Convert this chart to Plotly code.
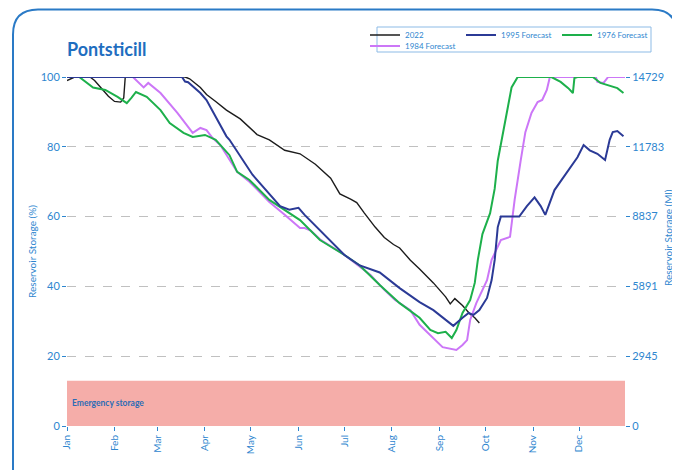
import pandas as pd
import plotly.graph_objects as go

BASE = pd.Timestamp("2022-01-01")

# ---- data (day of year offset from 1 Jan, storage %) ----
days_2022 = [0, 5, 15, 18, 22, 27, 31, 35, 37, 38, 77, 80, 87, 91, 97, 104, 113, 124, 132, 142,
             152, 162, 172, 178, 185, 189, 194, 201, 207, 213, 217, 224, 230, 239, 247, 250, 253,
             258, 263, 266, 269]
vals_2022 = [99, 100, 100, 99, 97, 94.5, 93, 92.8, 94, 100, 100, 99.5, 97, 95, 93, 90.5, 88, 83.5, 82, 79,
             78, 75, 71, 66.5, 65, 64, 61, 57, 54, 52, 51, 47.5, 45, 41, 37, 35, 36.5,
             34.5, 32, 31, 29.5]

days_1995 = [0, 75, 77, 79, 87, 91, 104, 106, 121, 139, 145, 151, 155, 165, 181, 191, 204, 217, 230,
             239, 247, 252, 258, 262, 265, 269, 274, 277, 279, 281, 283, 295, 300, 305, 309, 312,
             318, 325, 333, 337, 341, 346, 351, 354, 356, 359, 363]
vals_1995 = [100, 100, 98.7, 98.5, 95.4, 93.4, 83, 82, 72, 63, 62, 62.5, 60.5, 56, 49, 46, 44, 39.5, 35.5,
             33.2, 30.4, 28.7, 31, 32.4, 31.8, 33.2, 36.7, 41.8, 47.6, 57, 60, 60, 63, 65.5, 63, 60.5,
             67.6, 72, 77, 80.5, 79, 78, 76.2, 82, 84.2, 84.5, 83]

days_1976 = [0, 8, 17, 25, 33, 39, 42, 45, 52, 61, 67, 76, 82, 90, 97, 106, 111, 119, 132, 142, 152,
             165, 181, 191, 204, 217, 230, 237, 242, 247, 251, 254, 258, 263, 266, 268, 271, 276,
             279, 281, 284, 288, 290, 294, 316, 322, 327, 330, 331, 333, 343, 348, 354, 359, 363]
vals_1976 = [100, 100, 97, 96.3, 94.3, 92.5, 94, 95.7, 94.3, 90.5, 86.8, 84, 82.8, 83.4, 82, 77.6, 72.8,
             70.5, 64.8, 62, 59, 53.3, 49, 46, 40.4, 35.2, 31, 27.5, 26.6, 27, 25.2, 27.5, 32.4, 36.1,
             41, 47.6, 55, 61, 68, 76, 83, 93, 97, 100, 100, 98.6, 96.8, 95.4, 99.7, 100, 100, 98.3,
             97.4, 96.8, 95.4]

days_1984 = [0, 43, 50, 53, 61, 72, 82, 87, 91, 95, 100, 111, 119, 132, 142, 152, 155, 159, 165, 181,
             198, 207, 214, 224, 230, 239, 245, 254, 258, 261, 263, 267, 274, 277, 283, 289, 292,
             296, 299, 303, 307, 310, 313, 315, 345, 346, 350, 353, 364]
vals_1984 = [100, 100, 97, 98.3, 95.4, 89.7, 84, 85.4, 84.8, 82.5, 80.5, 72.8, 70, 64.2, 60.5, 56.7,
             56.7, 56, 53.5, 49, 43.3, 39, 36.1, 33.2, 29, 25.2, 22.6, 21.8, 23.2, 24.6, 30.4, 35.2,
             41.8, 47.6, 53.3, 54.2, 64.8, 76.2, 84.2, 89.7, 92.8, 93.4, 96.3, 100, 100, 98.6, 98.3,
             100, 100]

emergency_level = 13
pct_ticks = [0, 20, 40, 60, 80, 100]
ml_labels = ["0", "2945", "5891", "8837", "11783", "14729"]
month_ticks = pd.date_range("2022-01-01", "2022-12-01", freq="MS")


def to_dates(days):
    return [BASE + pd.Timedelta(days=d) for d in days]


BLUE_TXT = "#2E86CF"
FONT = "Lato"

fig = go.Figure()

series = [
    ("2022", days_2022, vals_2022, "#1c1c1c", 1.4, "legend", 1),
    ("1984 Forecast", days_1984, vals_1984, "#CC77F7", 2, "legend2", 4),
    ("1976 Forecast", days_1976, vals_1976, "#1DB04B", 2, "legend", 3),
    ("1995 Forecast", days_1995, vals_1995, "#2B3A96", 2, "legend", 2),
]
for name, d, v, col, w, lg, rank in series:
    fig.add_trace(go.Scatter(x=to_dates(d), y=v, mode="lines", name=name,
                             line=dict(color=col, width=w), legend=lg, legendrank=rank,
                             cliponaxis=False))

# dummy trace for the right axis
fig.add_trace(go.Scatter(x=[BASE], y=[None], yaxis="y2", showlegend=False, hoverinfo="skip"))

# page has an 8px body margin; screen coords -> paper coords (plot area at screen 67..625, 77..426)
def px(x):
    return (x - 67) / 558.0


def py(y):
    return (426 - y) / 349.0


# outer rounded frame
x0, x1, y0, y1 = px(13), px(677), py(490), py(9.5)
rx, ry = 25 / 558.0, 25 / 349.0
frame_path = (f"M {x0+rx},{y1} L {x1-rx},{y1} Q {x1},{y1} {x1},{y1-ry} L {x1},{y0} "
              f"L {x0},{y0} L {x0},{y1-ry} Q {x0},{y1} {x0+rx},{y1} Z")

shapes = [
    dict(type="path", xref="paper", yref="paper", path=frame_path,
         line=dict(color="#2A7AC6", width=2), fillcolor="rgba(0,0,0,0)", layer="below"),
    dict(type="rect", xref="paper", yref="y", x0=0, x1=1, y0=0, y1=emergency_level,
         fillcolor="#F5ADA9", line=dict(width=0), layer="above"),
    dict(type="rect", xref="paper", yref="paper", x0=px(377), x1=px(651), y0=py(52), y1=py(27),
         line=dict(color="#8DBBE6", width=1), fillcolor="white", layer="below"),
]

annotations = [
    dict(text="<b>Emergency storage</b>", xref="paper", yref="y", x=0.006, y=6.5,
         xanchor="left", yanchor="middle", showarrow=False,
         font=dict(family=FONT, size=8.5, color="#2B6CB5")),
    dict(text="Reservoir Storage (Ml)", xref="paper", yref="paper", x=px(668), y=py(238),
         xanchor="center", yanchor="middle", textangle=-90, showarrow=False,
         font=dict(family=FONT, size=10, color=BLUE_TXT)),
]

fig.update_layout(
    width=680, height=470,
    margin=dict(l=59, r=63, t=69, b=52),
    paper_bgcolor="white", plot_bgcolor="white",
    font=dict(family=FONT, color=BLUE_TXT),
    title=dict(text="<b>Pontsticill</b>", x=59 / 680, xanchor="left", y=1 - 42 / 470,
               yanchor="middle", font=dict(family=FONT, size=18, color="#1F6EC0")),
    shapes=shapes,
    annotations=annotations,
    xaxis=dict(type="date", range=["2022-01-01", "2022-12-31"], tickvals=list(month_ticks),
               tickformat="%b", tickangle=-90, showgrid=False, zeroline=False,
               ticks="outside", ticklen=4, tickcolor=BLUE_TXT, showline=False,
               tickfont=dict(size=10, color=BLUE_TXT, family=FONT)),
    yaxis=dict(range=[0, 100], tickvals=pct_ticks, showgrid=True, gridcolor="#C0C0C0",
               griddash="dash", gridwidth=1, zeroline=False, ticks="outside", ticklen=4,
               tickcolor=BLUE_TXT, tickfont=dict(size=11, color=BLUE_TXT, family=FONT),
               title=dict(text="Reservoir Storage (%)", standoff=2,
                          font=dict(size=10, color=BLUE_TXT, family=FONT))),
    yaxis2=dict(range=[0, 100], overlaying="y", side="right", tickvals=pct_ticks,
                ticktext=ml_labels, showgrid=False, zeroline=False, ticks="outside",
                ticklen=4, tickcolor=BLUE_TXT, tickfont=dict(size=11, color=BLUE_TXT, family=FONT),
                automargin=False),
    legend=dict(orientation="h", x=px(365), xanchor="left", y=py(35), yanchor="middle",
                bgcolor="rgba(0,0,0,0)", borderwidth=0, entrywidth=51,
                font=dict(size=8, color=BLUE_TXT, family=FONT), itemwidth=30),
    legend2=dict(orientation="h", x=px(365), xanchor="left", y=py(46), yanchor="middle",
                 bgcolor="rgba(0,0,0,0)", borderwidth=0,
                 font=dict(size=8, color=BLUE_TXT, family=FONT), itemwidth=30),
    showlegend=True,
)

fig.write_html("out.html")
